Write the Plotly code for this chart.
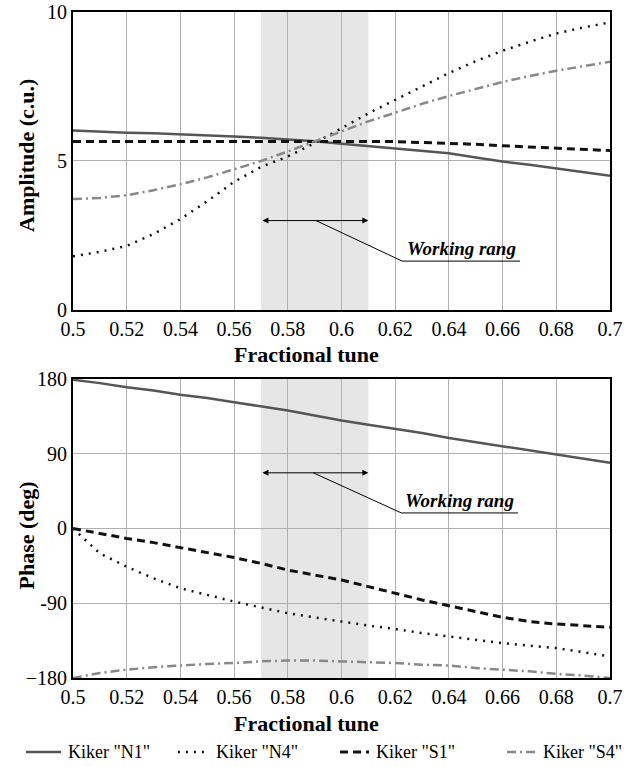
import plotly.graph_objects as go

tune = [0.50, 0.51, 0.52, 0.53, 0.54, 0.55, 0.56, 0.57, 0.58, 0.59, 0.60,
        0.61, 0.62, 0.63, 0.64, 0.65, 0.66, 0.67, 0.68, 0.69, 0.70]

amp_n1 = [6.02, 5.98, 5.95, 5.93, 5.90, 5.85, 5.82, 5.78, 5.73, 5.66, 5.58,
          5.50, 5.42, 5.35, 5.26, 5.12, 4.98, 4.87, 4.75, 4.62, 4.50]
amp_n4 = [1.80, 1.95, 2.15, 2.55, 3.05, 3.65, 4.30, 4.80, 5.15, 5.60, 6.10,
          6.60, 7.05, 7.50, 7.95, 8.35, 8.70, 9.00, 9.28, 9.48, 9.65]
amp_s1 = [5.65, 5.65, 5.65, 5.65, 5.65, 5.65, 5.65, 5.65, 5.65, 5.65, 5.65,
          5.65, 5.65, 5.62, 5.60, 5.56, 5.51, 5.47, 5.43, 5.39, 5.35]
amp_s4 = [3.72, 3.76, 3.85, 4.02, 4.22, 4.45, 4.72, 5.00, 5.32, 5.65, 5.98,
          6.33, 6.62, 6.92, 7.18, 7.42, 7.65, 7.85, 8.03, 8.18, 8.33]

ph_n1 = [179, 175, 170, 166, 161, 157, 152, 147, 142, 136, 130,
         125, 120, 115, 109, 104, 99, 94, 89, 84, 79]
ph_n4 = [0, -30, -46, -60, -72, -80, -88, -95, -102, -107, -112,
         -117, -121, -126, -130, -134, -138, -141, -144, -149, -154]
ph_s1 = [0, -6, -12, -17, -23, -29, -35, -42, -50, -56, -62,
         -70, -78, -86, -93, -100, -107, -112, -115, -117, -119]
ph_s4 = [-180, -174, -170, -167, -165, -163, -162, -160, -159, -159, -160,
         -161, -162, -164, -165, -168, -170, -172, -175, -177, -180]

names = ['Kiker "N1"', 'Kiker "N4"', 'Kiker "S1"', 'Kiker "S4"']
work_lo, work_hi = 0.57, 0.61
x_ticks = [0.5, 0.52, 0.54, 0.56, 0.58, 0.6, 0.62, 0.64, 0.66, 0.68, 0.7]
x_tick_text = ["0.5", "0.52", "0.54", "0.56", "0.58", "0.6", "0.62", "0.64", "0.66", "0.68", "0.7"]
amp_ticks = [0, 5, 10]
ph_ticks = [-180, -90, 0, 90, 180]
ph_tick_text = ["\u2212180", "-90", "0", "90", "180"]

styles = [
    dict(color="#555555", width=2.5, dash="solid"),
    dict(color="#111111", width=2.5, dash="2px,6px"),
    dict(color="#111111", width=3, dash="8px,5px"),
    dict(color="#888888", width=2.5, dash="9px,4px,2px,4px"),
]

FONT = "Liberation Serif, Times New Roman, serif"
W, H = 641, 767
ML, MR, MT, MB = 73, 31, 12, 89
PW, PH = W - ML - MR, H - MT - MB


def px_to_paper_x(px):
    return (px - ML) / PW


def px_to_paper_y(py):
    return (H - MB - py) / PH


fig = go.Figure()
amps = [amp_n1, amp_n4, amp_s1, amp_s4]
phs = [ph_n1, ph_n4, ph_s1, ph_s4]
for i in range(4):
    fig.add_trace(go.Scatter(x=tune, y=amps[i], mode="lines", name=names[i],
                             line=styles[i], xaxis="x", yaxis="y", showlegend=False))
for i in range(4):
    fig.add_trace(go.Scatter(x=tune, y=phs[i], mode="lines", name=names[i],
                             line=styles[i], xaxis="x2", yaxis="y2", showlegend=False))

axis_common = dict(showgrid=True, gridcolor="#b0b0b0", gridwidth=1, automargin=False,
                   showline=True, linecolor="black", linewidth=2, mirror=True,
                   ticklabeloverflow="allow",
                   zeroline=False, ticks="", tickfont=dict(family=FONT, size=20, color="black"))

TOP0 = 0.5526
BOT1 = 0.449
fig.update_layout(
    width=W, height=H,
    margin=dict(l=ML, r=MR, t=MT, b=MB),
    paper_bgcolor="white", plot_bgcolor="white",
    font=dict(family=FONT, color="black"),
    xaxis=dict(domain=[0, 1], anchor="y", range=[0.5, 0.7], tickvals=x_ticks, ticktext=x_tick_text, **axis_common),
    yaxis=dict(domain=[TOP0, 1], anchor="x", range=[0, 10], tickvals=amp_ticks, **axis_common),
    xaxis2=dict(domain=[0, 1], anchor="y2", range=[0.5, 0.7], tickvals=x_ticks, ticktext=x_tick_text, **axis_common),
    yaxis2=dict(domain=[0, BOT1], anchor="x2", range=[-180, 180], tickvals=ph_ticks, ticktext=ph_tick_text, **axis_common),
    showlegend=False,
)

# working range shading
for xr, yr in [("x", "y"), ("x2", "y2")]:
    fig.add_shape(type="rect", xref=xr, yref=yr + " domain", x0=work_lo, x1=work_hi, y0=0, y1=1,
                  fillcolor="#e6e6e6", line=dict(width=0), layer="below")

# annotations: working range arrows, leader lines, labels
arrow_defs = [("x", "y", 3.0, 0.5905, 0.6226, 1.64, 0.6665),
              ("x2", "y2", 67, 0.5895, 0.6223, 18.7, 0.6657)]
for xr, yr, ya, lx0, lx1, ly1, ux1 in arrow_defs:
    fig.add_annotation(x=work_hi, y=ya, ax=work_lo, ay=ya, xref=xr, yref=yr, axref=xr, ayref=yr,
                       text="", showarrow=True, arrowhead=2, startarrowhead=2, arrowside="end+start",
                       arrowsize=1.2, arrowwidth=1, arrowcolor="black", startarrowsize=1.2)
    fig.add_shape(type="line", xref=xr, yref=yr, x0=lx0, y0=ya, x1=lx1, y1=ly1,
                  line=dict(color="black", width=1))
    fig.add_shape(type="line", xref=xr, yref=yr, x0=lx1, y0=ly1, x1=ux1, y1=ly1,
                  line=dict(color="black", width=1))
    fig.add_annotation(x=(lx1 + ux1) / 2, y=ly1, xref=xr, yref=yr, text="<b><i>Working rang</i></b>",
                       showarrow=False, yanchor="bottom", yshift=0,
                       font=dict(family=FONT, size=19, color="black"))

# axis titles
fig.add_annotation(xref="paper", yref="paper", x=0.434, y=TOP0, yshift=-45, text="<b>Fractional tune</b>",
                   showarrow=False, yanchor="middle", font=dict(family=FONT, size=22, color="black"))
fig.add_annotation(xref="paper", yref="paper", x=0.434, y=0.0, yshift=-45, text="<b>Fractional tune</b>",
                   showarrow=False, yanchor="middle", font=dict(family=FONT, size=22, color="black"))
fig.add_annotation(xref="paper", yref="paper", x=-0.0857, y=(TOP0 + 1) / 2, yshift=6,
                   text="<b>Amplitude (c.u.)</b>",
                   showarrow=False, textangle=-90, xanchor="center", yanchor="middle",
                   font=dict(family=FONT, size=22, color="black"))
fig.add_annotation(xref="paper", yref="paper", x=-0.0857, y=BOT1 / 2, yshift=-7, text="<b>Phase (deg)</b>",
                   showarrow=False, textangle=-90, xanchor="center", yanchor="middle",
                   font=dict(family=FONT, size=22, color="black"))

# legend row (drawn manually to keep it on one line)
legend_sym_px = [(26, 61), (178, 209), (340, 369), (507, 536)]
legend_y_px = 752
for i, (s0, s1) in enumerate(legend_sym_px):
    ly = px_to_paper_y(legend_y_px)
    fig.add_shape(type="line", xref="paper", yref="paper",
                  x0=px_to_paper_x(s0), x1=px_to_paper_x(s1), y0=ly, y1=ly, line=styles[i])
    fig.add_annotation(xref="paper", yref="paper", x=px_to_paper_x(s1 + 5), y=ly,
                       text=names[i], showarrow=False, xanchor="left", yanchor="middle",
                       font=dict(family=FONT, size=18, color="black"))

fig.write_html("out.html", config={"displayModeBar": False},
               post_script="document.body.style.margin='0';document.body.style.overflow='hidden';")
